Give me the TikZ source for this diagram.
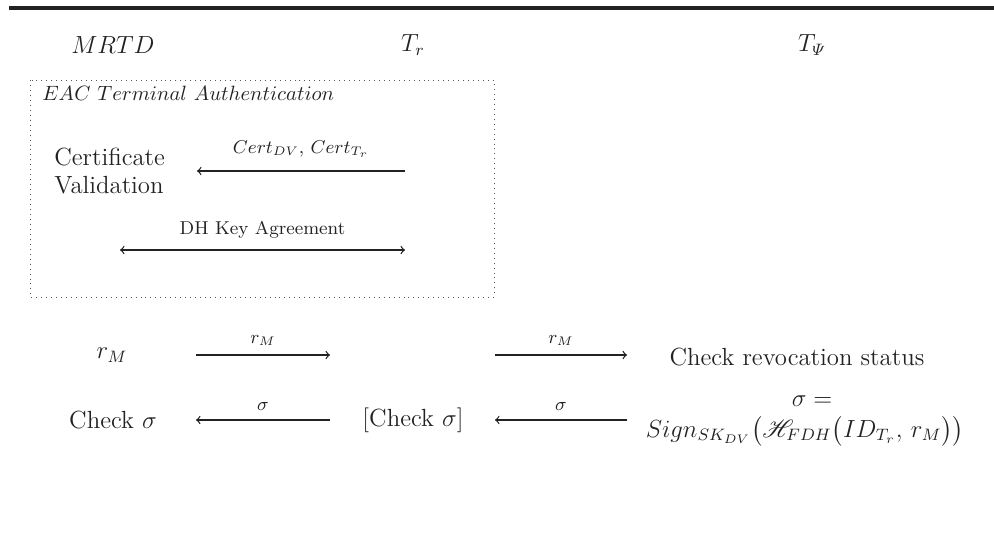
\documentclass[tikz,border=0pt]{standalone}
\usepackage{amsmath}
\usepackage{amssymb}
\usepackage{mathrsfs}
\usepackage{tikz}
\usetikzlibrary{positioning}
\definecolor{ProtoInk}{HTML}{222222}
\definecolor{ProtoBox}{HTML}{555555}

\begin{document}
\begin{tikzpicture}[x=0.017cm,y=-0.017cm,>=to,
    party/.style={font=\large,text=ProtoInk},
    msg/.style={->,color=ProtoInk,semithick},
    msglabel/.style={font=\small,text=ProtoInk,above=1pt}]
  \useasboundingbox (0,0) rectangle (994,532);
  \draw[line width=1.5pt,color=ProtoInk] (9,8)--(994,8);
  % parties
  \node[party] (mrtd) at (113,45) {$MRTD$};
  \node[party] (term) at (413,45) {$T_r$};
  \node[party] (tpsi) at (812,45) {$T_{\varPsi}$};
  % terminal authentication block
  \draw[dotted,color=ProtoBox] (30,80) rectangle (494,297);
  \node[font=\normalsize,text=ProtoInk,anchor=west] (eac) at (35,93) {$EAC\ Terminal\ Authentication$};
  \node[party,align=left,anchor=west] (certval) at (47,171) {Certificate\\Validation};
  \coordinate (certA) at (405,171);
  \coordinate (certB) at (197,171);
  \draw[msg] (certA) -- node[msglabel,above=3pt] {$Cert_{DV},\, Cert_{T_r}$} (certB);
  \coordinate (dhA) at (120,250);
  \coordinate (dhB) at (405,250);
  \draw[msg,<->] (dhA) -- node[msglabel,above=2pt] {DH Key Agreement} (dhB);
  % revocation check
  \node[party] (rm) at (112,355) {$r_M$};
  \coordinate (rmA) at (196,355);
  \coordinate (rmB) at (330,355);
  \draw[msg] (rmA) -- node[msglabel] {$r_M$} (rmB);
  \coordinate (rmC) at (495,355);
  \coordinate (rmD) at (627,355);
  \draw[msg] (rmC) -- node[msglabel] {$r_M$} (rmD);
  \node[party] (revoc) at (797,357) {Check revocation status};
  \node[party] (sigeq) at (812,401) {$\sigma =$};
  \node[party] (sign) at (805,431) {$Sign_{SK_{DV}}\bigl(\mathscr{H}_{FDH}\bigl(ID_{T_r},\, r_M\bigr)\bigr)$};
  \node[party] (chkm) at (113,420) {Check $\sigma$};
  \node[party] (chkt) at (413,420) {[Check $\sigma$]};
  \coordinate (sgA) at (627,420);
  \coordinate (sgB) at (495,420);
  \draw[msg] (sgA) -- node[msglabel] {$\sigma$} (sgB);
  \coordinate (sgC) at (330,420);
  \coordinate (sgD) at (196,420);
  \draw[msg] (sgC) -- node[msglabel] {$\sigma$} (sgD);
\end{tikzpicture}
\end{document}
